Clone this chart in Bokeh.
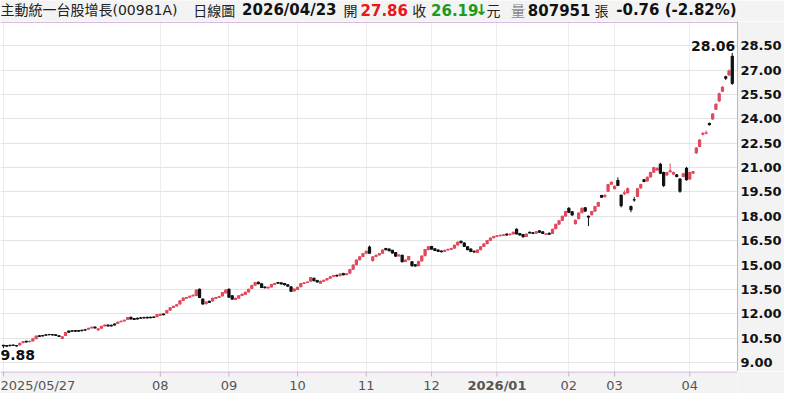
from bokeh.plotting import figure
from bokeh.layouts import column
from bokeh.models import ColumnDataSource, FixedTicker, NumeralTickFormatter, Label, Span
from bokeh.core.properties import value
from bokeh.embed import file_html
from bokeh.resources import INLINE

# ---------------- data ----------------
open_ = [
    10.05, 10.04, 10.06, 10.07, 10.04, 10.08, 10.22, 10.30, 10.27, 10.32,
    10.46, 10.64, 10.66, 10.70, 10.72, 10.72, 10.70, 10.64, 10.48, 10.66,
    10.93, 10.95, 10.96, 10.96, 10.98, 11.01, 11.04, 11.12, 11.18, 11.00,
    11.10, 11.25, 11.30, 11.28, 11.36, 11.40, 11.50, 11.55, 11.64, 11.78,
    11.70, 11.72, 11.75, 11.77, 11.78, 11.78, 11.80, 11.82, 11.90, 11.98,
    12.05, 12.22, 12.38, 12.48, 12.60, 12.82, 12.95, 13.02, 13.10, 13.12,
    13.50, 12.90, 12.62, 12.76, 12.78, 12.94, 13.00, 13.10, 13.28, 13.50,
    13.10, 12.88, 12.96, 13.12, 13.18, 13.34, 13.55, 13.76, 13.94, 13.84,
    13.64, 13.58, 13.65, 13.80, 13.92, 13.90, 13.86, 13.78, 13.65, 13.40,
    13.50, 13.66, 13.86, 13.92, 14.00, 14.18, 14.05, 13.88, 14.00, 14.08,
    14.18, 14.30, 14.36, 14.34, 14.48, 14.40, 14.50, 14.74, 15.02, 15.32,
    15.52, 15.72, 16.10, 15.28, 15.52, 15.62, 15.72, 16.02, 15.98, 15.90,
    15.76, 15.56, 15.60, 15.22, 15.32, 15.20, 15.02, 14.96, 15.25, 15.58,
    15.95, 16.14, 16.00, 15.92, 15.86, 15.84, 15.92, 15.96, 16.04, 16.24,
    16.46, 16.36, 16.12, 15.98, 15.85, 15.78, 15.94, 16.14, 16.32, 16.52,
    16.68, 16.76, 16.80, 16.82, 16.90, 16.86, 16.92, 17.20, 16.94, 16.88,
    16.76, 17.02, 16.99, 16.96, 17.10, 17.04, 16.88, 16.96, 16.94, 17.24,
    17.52, 17.74, 18.02, 18.50, 18.28, 17.55, 17.85, 18.22, 18.52, 18.00,
    18.10, 18.32, 18.62, 19.28, 19.20, 19.55, 19.98, 19.70, 20.20, 19.30,
    19.40, 19.45, 18.60, 19.02, 19.22, 19.74, 20.25, 20.18, 20.42, 20.72,
    20.85, 21.20, 20.70, 20.55, 20.74, 20.60, 20.55, 20.30, 20.45, 20.95,
    20.30, 20.66, 21.90, 22.30, 23.05, 23.12, 23.72, 24.00, 24.60, 25.10,
    25.70, 26.60, 26.70, 27.86,
]
close = [
    10.02, 10.00, 10.03, 10.05, 10.01, 10.18, 10.28, 10.26, 10.30, 10.45,
    10.62, 10.60, 10.63, 10.67, 10.70, 10.69, 10.66, 10.60, 10.58, 10.84,
    10.86, 10.92, 10.92, 10.93, 10.95, 10.99, 11.10, 11.17, 11.12, 11.07,
    11.22, 11.30, 11.24, 11.25, 11.30, 11.48, 11.54, 11.60, 11.76, 11.68,
    11.65, 11.67, 11.72, 11.74, 11.74, 11.75, 11.77, 11.95, 11.97, 11.94,
    12.20, 12.36, 12.45, 12.55, 12.80, 12.96, 13.00, 13.08, 13.14, 13.45,
    13.00, 12.60, 12.72, 12.70, 12.95, 13.00, 13.05, 13.30, 13.45, 13.02,
    12.90, 12.95, 13.10, 13.20, 13.32, 13.50, 13.74, 13.92, 13.85, 13.62,
    13.60, 13.63, 13.80, 13.86, 13.88, 13.84, 13.78, 13.70, 13.38, 13.52,
    13.62, 13.86, 13.90, 13.95, 14.22, 14.04, 13.95, 14.00, 14.06, 14.16,
    14.28, 14.35, 14.32, 14.45, 14.40, 14.46, 14.72, 15.00, 15.30, 15.50,
    15.70, 15.85, 15.72, 15.50, 15.60, 15.70, 15.92, 15.95, 15.88, 15.74,
    15.55, 15.62, 15.20, 15.30, 15.52, 14.95, 14.94, 15.22, 15.55, 15.95,
    16.12, 15.98, 15.90, 15.84, 15.82, 15.90, 15.96, 16.02, 16.22, 16.40,
    16.38, 16.15, 15.95, 15.83, 15.80, 15.92, 16.12, 16.30, 16.50, 16.66,
    16.75, 16.80, 16.83, 16.86, 16.85, 16.90, 17.02, 16.92, 16.85, 16.74,
    16.90, 16.98, 16.95, 17.05, 17.02, 16.95, 16.92, 16.90, 17.20, 17.50,
    17.72, 18.00, 18.30, 18.25, 18.08, 17.75, 18.20, 18.50, 18.32, 17.95,
    18.30, 18.60, 18.85, 19.18, 19.30, 19.95, 20.10, 19.85, 19.90, 18.65,
    19.45, 19.70, 18.40, 19.00, 19.70, 19.95, 20.15, 20.40, 20.70, 21.00,
    20.95, 20.65, 19.90, 20.70, 20.80, 20.70, 20.45, 19.55, 20.62, 20.25,
    20.70, 20.75, 22.20, 22.70, 23.10, 23.15, 23.65, 24.30, 24.90, 25.55,
    25.95, 26.50, 26.95, 26.19,
]
high = [
    10.08, 10.07, 10.09, 10.10, 10.07, 10.21, 10.31, 10.33, 10.34, 10.48,
    10.65, 10.68, 10.70, 10.74, 10.76, 10.75, 10.73, 10.67, 10.61, 10.87,
    10.96, 10.99, 10.99, 11.00, 11.02, 11.05, 11.13, 11.21, 11.21, 11.10,
    11.25, 11.34, 11.33, 11.32, 11.40, 11.51, 11.58, 11.64, 11.80, 11.81,
    11.73, 11.76, 11.79, 11.81, 11.81, 11.82, 11.84, 11.98, 12.01, 12.02,
    12.23, 12.40, 12.49, 12.59, 12.84, 13.00, 13.04, 13.12, 13.18, 13.50,
    13.55, 12.93, 12.76, 12.80, 12.99, 13.04, 13.09, 13.34, 13.49, 13.55,
    13.14, 12.99, 13.14, 13.24, 13.36, 13.54, 13.78, 13.96, 13.98, 13.87,
    13.68, 13.67, 13.84, 13.90, 13.96, 13.93, 13.89, 13.81, 13.68, 13.56,
    13.66, 13.90, 13.94, 13.99, 14.26, 14.22, 14.09, 14.04, 14.10, 14.20,
    14.32, 14.39, 14.40, 14.49, 14.52, 14.50, 14.76, 15.04, 15.34, 15.54,
    15.74, 15.89, 16.20, 15.54, 15.64, 15.74, 15.96, 16.06, 16.02, 15.93,
    15.79, 15.66, 15.64, 15.34, 15.56, 15.24, 15.06, 15.26, 15.59, 15.99,
    16.16, 16.18, 16.04, 15.96, 15.90, 15.94, 16.00, 16.06, 16.26, 16.46,
    16.50, 16.40, 16.16, 16.02, 15.89, 15.96, 16.16, 16.34, 16.54, 16.70,
    16.79, 16.84, 16.87, 16.90, 16.94, 16.94, 17.06, 17.26, 16.98, 16.92,
    16.94, 17.06, 17.03, 17.09, 17.14, 17.08, 16.96, 17.00, 17.24, 17.54,
    17.76, 18.04, 18.34, 18.56, 18.32, 17.80, 18.24, 18.54, 18.56, 18.05,
    18.34, 18.64, 18.89, 19.32, 19.34, 20.00, 20.15, 19.90, 20.40, 19.35,
    19.60, 19.78, 18.66, 19.20, 19.75, 20.00, 20.30, 20.45, 20.75, 21.05,
    21.00, 21.30, 20.75, 20.75, 21.25, 20.75, 20.60, 20.35, 20.68, 21.05,
    20.75, 20.80, 22.26, 22.76, 23.20, 23.28, 23.78, 24.36, 24.96, 25.62,
    26.02, 26.66, 27.05, 28.06,
]
low = [
    9.88, 9.97, 10.00, 10.02, 9.97, 10.05, 10.19, 10.23, 10.24, 10.30,
    10.44, 10.57, 10.60, 10.64, 10.67, 10.66, 10.63, 10.57, 10.45, 10.64,
    10.83, 10.89, 10.89, 10.90, 10.92, 10.96, 11.01, 11.09, 11.09, 10.97,
    11.08, 11.22, 11.21, 11.22, 11.27, 11.37, 11.47, 11.52, 11.61, 11.64,
    11.62, 11.64, 11.69, 11.71, 11.71, 11.72, 11.74, 11.79, 11.87, 11.90,
    12.02, 12.19, 12.35, 12.45, 12.57, 12.79, 12.92, 12.99, 13.07, 13.08,
    12.96, 12.55, 12.58, 12.66, 12.75, 12.91, 12.97, 13.07, 13.25, 12.98,
    12.85, 12.84, 12.93, 13.09, 13.15, 13.31, 13.52, 13.73, 13.81, 13.58,
    13.56, 13.55, 13.62, 13.77, 13.84, 13.80, 13.74, 13.66, 13.34, 13.37,
    13.47, 13.63, 13.83, 13.89, 13.97, 14.00, 13.91, 13.85, 13.97, 14.05,
    14.15, 14.27, 14.28, 14.31, 14.36, 14.37, 14.47, 14.71, 14.99, 15.29,
    15.49, 15.69, 15.68, 15.20, 15.49, 15.59, 15.69, 15.91, 15.84, 15.70,
    15.51, 15.53, 15.16, 15.18, 15.29, 14.90, 14.89, 14.93, 15.22, 15.55,
    15.92, 15.94, 15.86, 15.80, 15.78, 15.81, 15.89, 15.93, 16.01, 16.21,
    16.34, 16.11, 15.91, 15.79, 15.76, 15.75, 15.91, 16.11, 16.29, 16.49,
    16.65, 16.73, 16.77, 16.79, 16.81, 16.83, 16.89, 16.88, 16.81, 16.68,
    16.73, 16.94, 16.91, 16.93, 16.98, 16.91, 16.85, 16.86, 16.91, 17.21,
    17.49, 17.71, 17.99, 18.20, 18.04, 17.50, 17.82, 18.19, 18.28, 17.40,
    18.05, 18.29, 18.59, 19.14, 19.17, 19.52, 19.95, 19.66, 19.86, 18.55,
    19.30, 19.40, 18.25, 18.90, 19.18, 19.70, 20.10, 20.15, 20.39, 20.69,
    20.80, 20.60, 19.80, 20.50, 20.70, 20.55, 20.40, 19.45, 20.40, 20.20,
    20.25, 20.62, 21.86, 22.26, 22.98, 23.05, 23.60, 23.96, 24.55, 25.05,
    25.65, 26.40, 26.65, 26.10,
]

month_ticks = [0, 48, 69, 90, 111, 131, 151, 173, 187, 210]
month_labels = ["2025/05/27", "08", "09", "10", "11", "12", "2026/01", "02", "03", "04"]
price_ticks = [9.0, 10.5, 12.0, 13.5, 15.0, 16.5, 18.0, 19.5, 21.0, 22.5, 24.0, 25.5, 27.0, 28.5]

title_texts = ["主動統一台股增長(00981A)", "日線圖", "2026/04/23", "開", "27.86", "收",
               "26.19", "\u2193", "元", "量", "807951", "張", "-0.76 (-2.82%)"]
max_text, min_text = "28.06", "9.88"

# ---------------- styles ----------------
RED = "#e0495c"
BLACK = "#111111"
PURPLE = "#d2a6da"
BG = "#f3f3f3"
LATIN = "DejaVu Sans"
CJK = "Noto Sans CJK TC"
MIXED = "DejaVu Sans, Noto Sans CJK TC"
W = 784
RIGHT = 46
TITLE_H, MAIN_H, AX_H = 21, 350, 22

# ---------------- main chart ----------------
n = len(close)
xs = list(range(n))
colors = [RED if c >= o else BLACK for o, c in zip(open_, close)]
tops = [max(o, c) for o, c in zip(open_, close)]
bottoms = [min(o, c) for o, c in zip(open_, close)]
src = ColumnDataSource(dict(x=xs, open=open_, close=close, high=high, low=low,
                            top=tops, bottom=bottoms, color=colors))

p = figure(width=W, height=MAIN_H, x_range=(-0.9, 224.6), y_range=(8.44, 30.0),
           output_backend="svg", toolbar_location=None, y_axis_location="right",
           x_axis_location=None, title=None, min_border_left=0, min_border_top=0,
           min_border_right=RIGHT, min_border_bottom=0)
p.background_fill_color = "white"
p.border_fill_color = BG
p.outline_line_color = None
p.xgrid.ticker = FixedTicker(ticks=month_ticks)
p.xgrid.grid_line_color = "#ededed"
p.ygrid.ticker = FixedTicker(ticks=price_ticks)
p.ygrid.grid_line_color = "#e4e4e4"

ya = p.yaxis[0]
ya.ticker = FixedTicker(ticks=price_ticks)
ya.formatter = NumeralTickFormatter(format="0.00")
ya.major_label_text_font = LATIN
ya.major_label_text_font_style = "bold"
ya.major_label_text_font_size = "13px"
ya.major_label_text_color = "#111111"
ya.axis_line_color = PURPLE
ya.major_tick_out = 0
ya.major_tick_in = 0
ya.minor_tick_out = 0
ya.minor_tick_in = 0
ya.major_label_standoff = 3

p.add_layout(Span(location=29.95, dimension="width", line_color=PURPLE, line_width=1))

p.segment(x0="x", y0="high", x1="x", y1="low", line_color="color", line_width=1, source=src)
p.vbar(x="x", width=0.66, top="top", bottom="bottom", fill_color="color",
       line_color="color", line_width=1.1, source=src)

imax = high.index(max(high))
imin = low.index(min(low))
p.add_layout(Label(x=imax, y=high[imax], text=max_text, text_align="right",
                   text_baseline="bottom", x_offset=3, y_offset=2,
                   text_font=LATIN, text_font_style="bold",
                   text_font_size="14px", text_color="#111111"))
p.add_layout(Label(x=imin, y=low[imin], text=min_text, text_align="left",
                   text_baseline="top", x_offset=-3, y_offset=-2,
                   text_font=LATIN, text_font_style="bold",
                   text_font_size="14px", text_color="#111111"))

# ---------------- title strip ----------------
t = figure(width=W, height=TITLE_H, x_range=(0, W), y_range=(0, TITLE_H),
           output_backend="svg", toolbar_location=None, title=None,
           x_axis_location=None, y_axis_location=None,
           min_border_left=0, min_border_top=0, min_border_right=0, min_border_bottom=0)
t.background_fill_color = BG
t.border_fill_color = BG
t.outline_line_color = None
t.grid.visible = False
title_x = [0, 205, 257, 365, 383, 438, 458, 505, 517, 543, 561, 632, 655]
title_font = [MIXED, CJK, LATIN, CJK, LATIN, CJK, LATIN, LATIN, CJK, CJK, LATIN, CJK, LATIN]
title_size = ["14px", "14px", "15px", "14px", "15px", "14px", "15px", "15px", "14px",
              "14px", "15px", "14px", "15px"]
title_style = ["normal", "normal", "bold", "normal", "bold", "normal", "bold", "bold",
               "normal", "normal", "bold", "normal", "bold"]
title_color = ["#222222", "#222222", "#111111", "#222222", "#e8161c", "#222222", "#1c9a1c",
               "#1c9a1c", "#222222", "#888888", "#111111", "#222222", "#111111"]
tsrc = ColumnDataSource(dict(x=title_x, y=[TITLE_H / 2 + 1] * len(title_x), text=title_texts,
                             font=title_font, size=title_size, style=title_style,
                             color=title_color))
t.text(x="x", y="y", text="text", text_font="font", text_font_size="size",
       text_font_style="style", text_color="color", text_align="left",
       text_baseline="middle", source=tsrc)

# ---------------- x-axis label strip ----------------
b = figure(width=W, height=AX_H, x_range=p.x_range, y_range=(0, AX_H),
           output_backend="svg", toolbar_location=None, title=None,
           x_axis_location=None, y_axis_location=None,
           min_border_left=0, min_border_top=0, min_border_right=RIGHT, min_border_bottom=0)
b.background_fill_color = BG
b.border_fill_color = BG
b.outline_line_color = None
b.grid.visible = False
b.add_layout(Span(location=AX_H - 0.5, dimension="width", line_color=PURPLE, line_width=1))
b.segment(x0=month_ticks, y0=[AX_H] * len(month_ticks), x1=month_ticks,
          y1=[AX_H - 5] * len(month_ticks), line_color="#c9b0cf", line_width=1)
lab_align = ["left" if lab == month_labels[0] else "center" for lab in month_labels]
lab_style = ["bold" if lab == "2026/01" else "normal" for lab in month_labels]
lab_dx = [-3 if lab == month_labels[0] else 0 for lab in month_labels]
bsrc = ColumnDataSource(dict(x=month_ticks, y=[8.5] * len(month_ticks), text=month_labels,
                             align=lab_align, style=lab_style, dx=lab_dx))
b.text(x="x", y="y", text="text", text_align="align", text_font_style="style",
       x_offset="dx", text_font=value(LATIN), text_font_size="13px",
       text_color="#555555", text_baseline="middle", source=bsrc)

layout = column(t, p, b, spacing=0)
open("out.html", "w").write(file_html(layout, INLINE))
